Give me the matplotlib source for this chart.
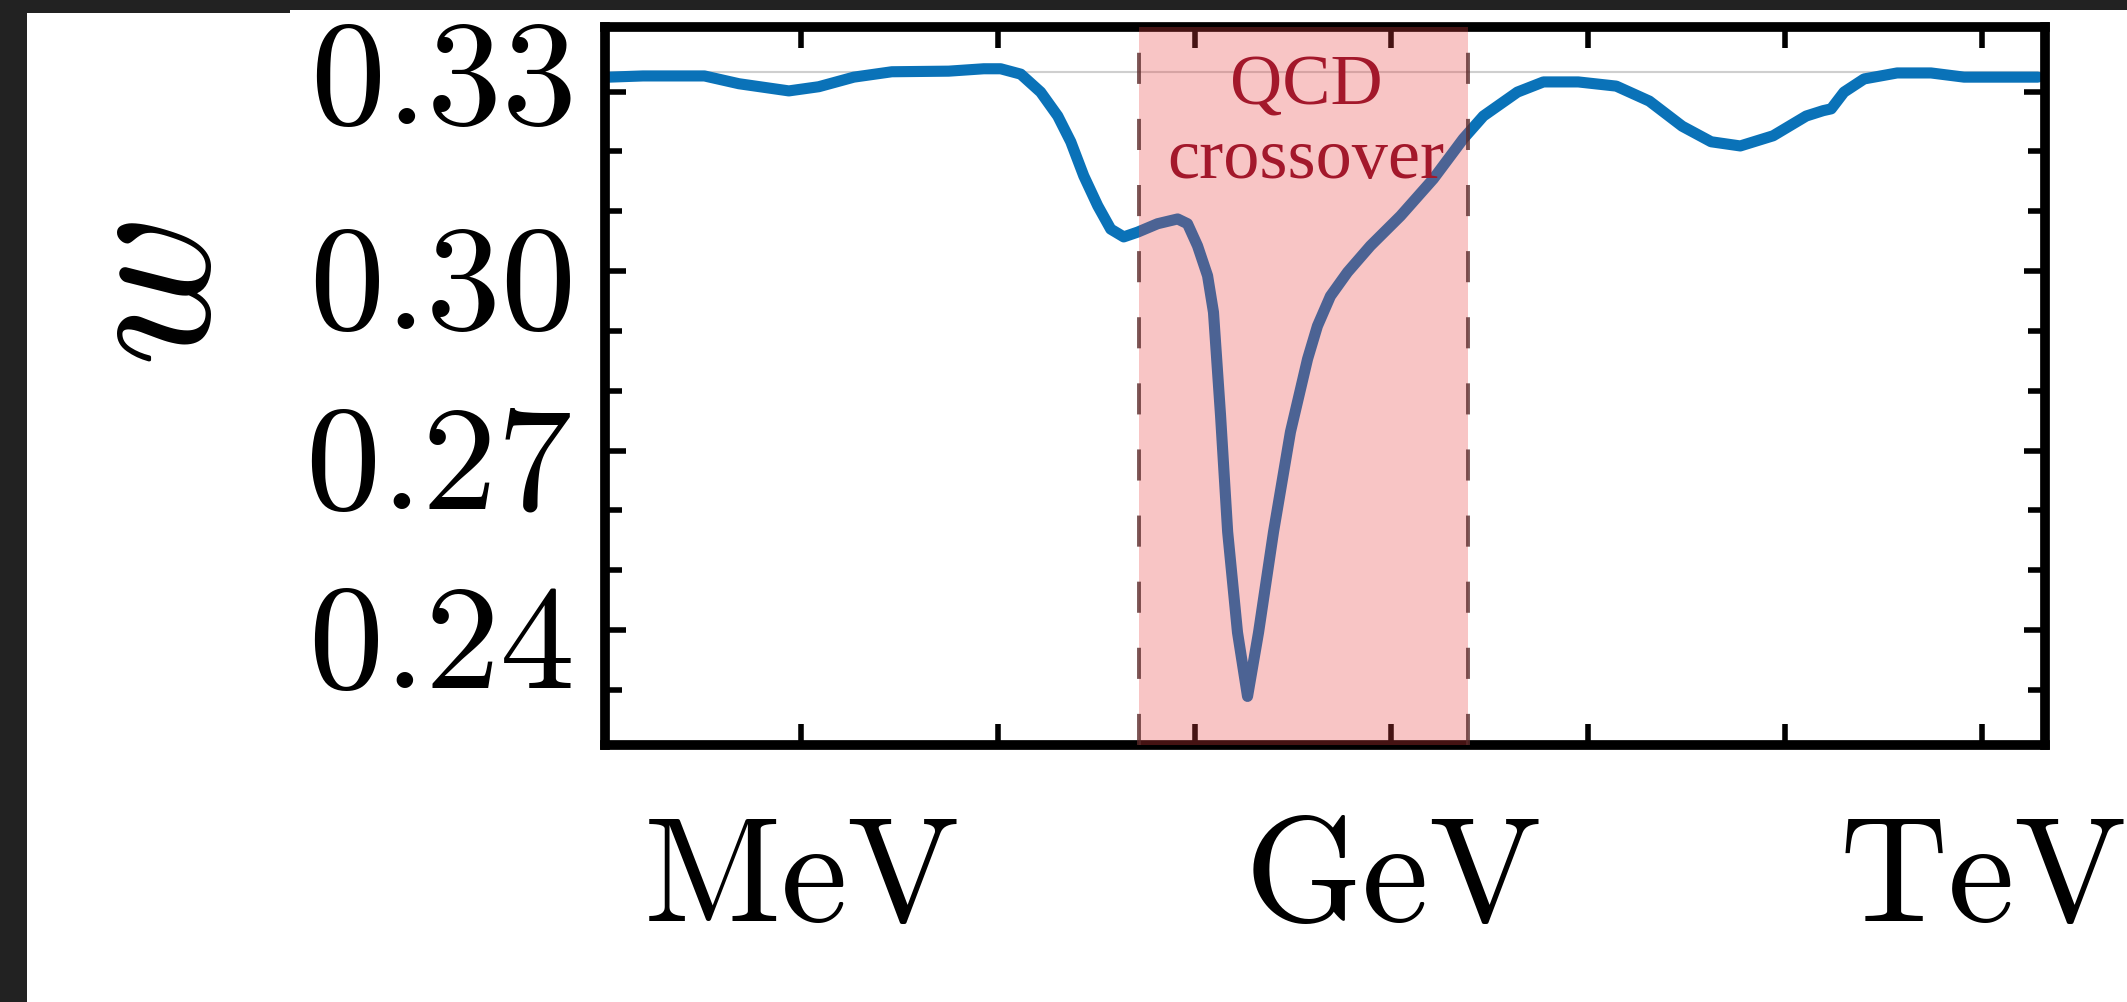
import numpy as np
import matplotlib.pyplot as plt
from matplotlib.patches import Rectangle
from matplotlib.ticker import FixedLocator, NullLocator

plt.rcParams['mathtext.fontset'] = 'cm'

# temperature as log10(T / GeV), equation of state w
log_T = [-3.975, -3.802, -3.490, -3.315, -3.061, -2.909, -2.731, -2.538, -2.249,
         -2.071, -1.985, -1.883, -1.782, -1.695, -1.629, -1.563, -1.492, -1.426,
         -1.360, -1.289, -1.188, -1.086, -1.036, -0.985, -0.934, -0.904, -0.868,
         -0.832, -0.782, -0.731, -0.675, -0.599, -0.513, -0.426, -0.376, -0.310,
         -0.223, -0.107, 0.046, 0.213, 0.365, 0.467, 0.640, 0.772, 0.949, 1.142,
         1.310, 1.477, 1.624, 1.772, 1.939, 2.107, 2.193, 2.234, 2.299, 2.401,
         2.569, 2.741, 2.909, 3.284]
w_vals = [0.3324, 0.3326, 0.3326, 0.3313, 0.3301, 0.3308, 0.3324, 0.3333, 0.3334,
          0.3338, 0.3338, 0.3329, 0.3299, 0.3259, 0.3216, 0.3159, 0.3109, 0.3070,
          0.3057, 0.3065, 0.3079, 0.3087, 0.3079, 0.3042, 0.2992, 0.2931, 0.2758,
          0.2564, 0.2396, 0.2289, 0.2396, 0.2564, 0.2731, 0.2853, 0.2908, 0.2958,
          0.2998, 0.3042, 0.3092, 0.3154, 0.3221, 0.3259, 0.3299, 0.3316, 0.3316,
          0.3309, 0.3284, 0.3242, 0.3216, 0.3209, 0.3226, 0.3259, 0.3268, 0.3271,
          0.3299, 0.3321, 0.3331, 0.3331, 0.3324, 0.3324]

qcd_band = [-1.284, 0.391]          # log10(T/GeV) edges of the crossover region
w_radiation = 1 / 3

xtick_pos = [-3, -2, -1, 0, 1, 2, 3]
xtick_labels = ['MeV', '', '', 'GeV', '', '', 'TeV']
ytick_major = [0.24, 0.27, 0.30, 0.33]
ytick_labels = ['0.24', '0.27', '0.30', '']
ytick_minor = [0.23, 0.25, 0.26, 0.28, 0.29, 0.31, 0.32]

W, H = 2127, 1003
fig = plt.figure(figsize=(W / 100, H / 100), dpi=100)

# dark screenshot border
dark = '#222222'
fig.add_artist(Rectangle((0, 0), 27 / W, 1, transform=fig.transFigure, color=dark, lw=0))
fig.add_artist(Rectangle((0, 1 - 11 / H), 1, 11 / H, transform=fig.transFigure, color=dark, lw=0))
fig.add_artist(Rectangle((0, 1 - 14 / H), 290 / W, 3 / H, transform=fig.transFigure, color=dark, lw=0))

ax = fig.add_axes([605 / W, 1 - 746 / H, (2045 - 605) / W, (746 - 28) / H])

T = 10 ** np.array(log_T)
ax.axhline(w_radiation, color='#cfcfcf', lw=1.5, zorder=1)
ax.plot(T, w_vals, color='#0a72b8', lw=8, solid_joinstyle='round',
        solid_capstyle='round', zorder=2)

lo, hi = 10 ** qcd_band[0], 10 ** qcd_band[1]
ax.axvspan(lo, hi, color=(232 / 255, 65 / 255, 65 / 255), alpha=0.3, lw=0, zorder=3)
for edge in (lo, hi):
    ax.axvline(edge, color='#5b2b2b', lw=2.8, dashes=(8, 9), alpha=0.8, zorder=4)

ax.set_xscale('log')
ax.set_xlim(10 ** -3.995, 10 ** 3.32)
ax.set_ylim(0.22078, 0.34078)

ax.xaxis.set_major_locator(FixedLocator([10.0 ** p for p in xtick_pos]))
ax.xaxis.set_minor_locator(NullLocator())
ax.set_xticklabels([r'$\mathrm{%s}$' % s if s else '' for s in xtick_labels])
ax.set_yticks(ytick_major)
ax.set_yticklabels([r'$%s$' % s if s else '' for s in ytick_labels])
ax.yaxis.set_minor_locator(FixedLocator(ytick_minor))

ax.tick_params(which='both', direction='in', top=True, right=True, width=4, color='black')
ax.tick_params(which='major', length=15)
ax.tick_params(which='minor', length=12)
ax.tick_params(axis='x', labelsize=108, pad=44)
ax.tick_params(axis='y', labelsize=108, pad=24)
for sp in ax.spines.values():
    sp.set_linewidth(7)

# the top label sits at w = 1/3
ax.annotate(r'$0.33$', xy=(0, w_radiation), xycoords=('axes fraction', 'data'),
            xytext=(-24, 4), textcoords='offset points', ha='right',
            va='center_baseline', fontsize=108)

fig.text(152 / W, 1 - 294 / H, r'$w$', rotation=90, fontsize=150, ha='center', va='center')

fig.text(1306 / W, 1 - 105 / H, 'QCD', ha='center', va='baseline', fontsize=52,
         family='Liberation Serif', color='#a3182b', zorder=5)
fig.text(1306 / W, 1 - 178 / H, 'crossover', ha='center', va='baseline', fontsize=52,
         family='Liberation Serif', color='#a3182b', zorder=5)

fig.savefig('out.png', dpi=100)
